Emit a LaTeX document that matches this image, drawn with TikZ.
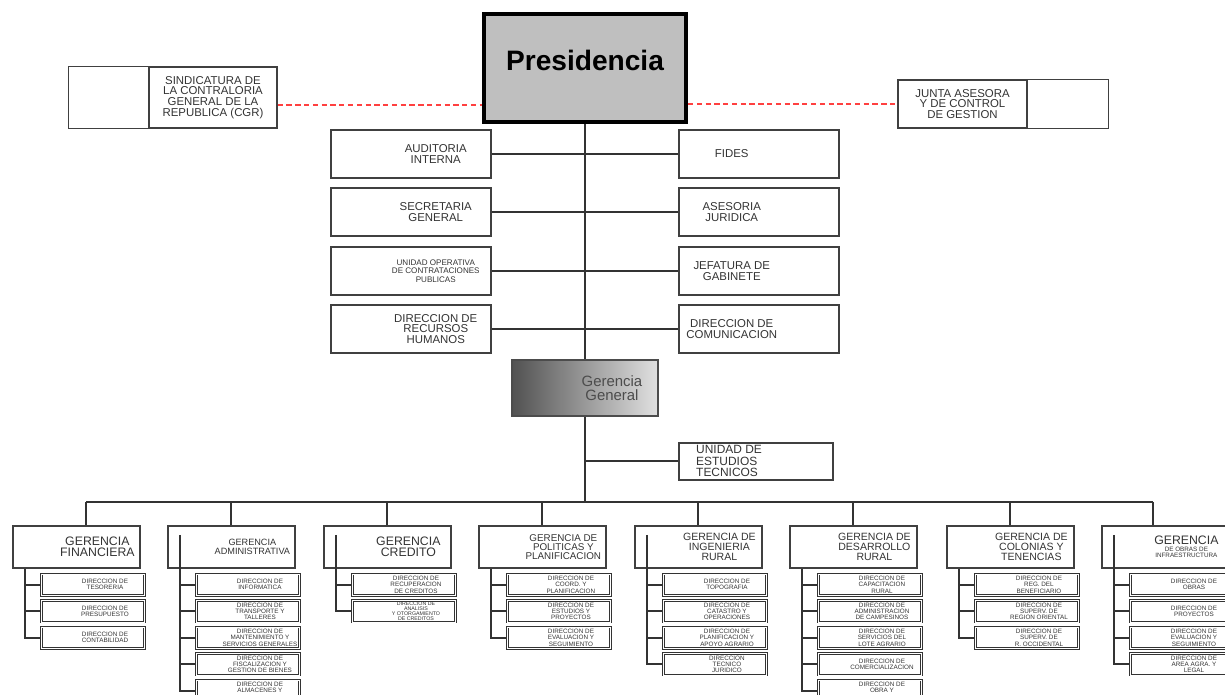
\documentclass[tikz,border=0pt]{standalone}
\usepackage{fontspec}
\setmainfont{Liberation Sans}

\begin{document}
\begin{tikzpicture}[x=0.02cm, y=-0.02cm,
	ubox/.style={draw=black!75, line width=0.9pt, anchor=north west, minimum width=3.2cm, minimum height=0.97cm, inner sep=0pt},
	utxt/.style={font=\fontsize{6.5}{6.1}\selectfont, text=black!80, align=center},
	ltxt/.style={utxt, xshift=0.5cm},
	rtxt/.style={utxt, xshift=-0.54cm},
	gbox/.style={draw=black!75, line width=1pt, anchor=north west, minimum width=2.54cm, minimum height=0.84cm, inner sep=0pt},
	gtxt/.style={utxt, font=\fontsize{7}{6.6}\selectfont, xshift=0.42cm},
	gtxts/.style={gtxt, font=\fontsize{6}{5.5}\selectfont},
	sbox/.style={draw=black!80, double=white, double distance=0.5pt, line width=0.55pt, anchor=north west, minimum width=2.06cm, minimum height=0.43cm, inner sep=0pt},
	stxt/.style={font=\fontsize{3.6}{3.5}\selectfont, text=black!80, align=center, xshift=0.24cm},
	link/.style={draw=black!80, line width=1.1pt},
	redlink/.style={draw=red!75, line width=0.8pt, densely dashed}]

		\useasboundingbox (0,0) rectangle (1225,695);
		\clip (0,0) rectangle (1225,695);

		% Presidencia and the two boards beside it
		\node[draw=black, line width=2.3pt, fill=black!25, minimum width=4.04cm, minimum height=2.16cm, text depth=0.32cm, font=\bfseries\fontsize{16}{18}\selectfont] (pres) at (585,68) {Presidencia};

		\node[draw=black!75, line width=0.8pt, minimum width=2.56cm, minimum height=1.22cm, inner sep=0pt, utxt] (sind) at (213,97.5) {SINDICATURA DE\\LA CONTRALORIA\\GENERAL DE LA\\REPUBLICA (CGR)};
		\draw[draw=black!75, line width=0.8pt] (sind.north west) rectangle ([xshift=-1.6cm]sind.south west);

		\node[draw=black!75, line width=0.8pt, minimum width=2.58cm, minimum height=0.96cm, inner sep=0pt, utxt] (junta) at (962.5,104) {JUNTA ASESORA\\Y DE CONTROL\\DE GESTION};
		\draw[draw=black!75, line width=0.8pt] (junta.north east) rectangle ([xshift=1.62cm]junta.south east);

		\coordinate (rl) at ([yshift=-0.15cm]sind.east);
		\draw[redlink] (rl) -- (rl -| pres.west);
		\draw[redlink] (junta.west -| pres.east) -- (junta.west);

		% staff units
		\node[ubox, label={[ltxt]center:{AUDITORIA\\INTERNA}}] (aud) at (330,129) {};
		\node[ubox, label={[rtxt]center:{FIDES}}] (fides) at (678,129) {};
		\node[ubox, label={[ltxt]center:{SECRETARIA\\GENERAL}}] (secr) at (330,187) {};
		\node[ubox, label={[rtxt]center:{ASESORIA\\JURIDICA}}] (ases) at (678,187) {};
		\node[ubox, label={[ltxt, font=\fontsize{4.6}{4.7}\selectfont]center:{UNIDAD OPERATIVA\\DE CONTRATACIONES\\PUBLICAS}}] (uoc) at (330,246) {};
		\node[ubox, label={[rtxt]center:{JEFATURA DE\\GABINETE}}] (jefa) at (678,246) {};
		\node[ubox, label={[ltxt]center:{DIRECCION DE\\RECURSOS\\HUMANOS}}] (rrhh) at (330,304) {};
		\node[ubox, label={[rtxt]center:{DIRECCION DE\\COMUNICACION}}] (comu) at (678,304) {};

		\draw[link] (aud) -- (fides);
		\draw[link] (secr) -- (ases);
		\draw[link] (uoc) -- (jefa);
		\draw[link] (rrhh) -- (comu);

		% Gerencia General
		\node[draw=black!70, line width=0.9pt, left color=black!68, right color=black!12, minimum width=2.92cm, minimum height=1.12cm, inner sep=0pt, label={[xshift=0.54cm, align=center, text=black!70, font=\fontsize{8.5}{7.6}\selectfont]center:{Gerencia\\General}}] (gg) at (585,388) {};
		\draw[link] (pres) -- (gg);

		\node[draw=black!75, line width=0.9pt, anchor=north west, minimum width=3.08cm, minimum height=0.74cm, inner sep=0pt, label={[utxt, font=\fontsize{6.8}{6.5}\selectfont, align=left, anchor=west, xshift=0.24cm]west:{UNIDAD DE\\ESTUDIOS\\TECNICOS}}] (uet) at (678,442) {};
		\draw[link] (uet.west) -- (uet.west -| gg.south);

		% bus to the gerencias
		\coordinate (busl) at (86,502);
		\coordinate (busr) at (1153,502);
		\draw[link] (gg) -- (gg.south |- busl);
		\draw[link] (busl) -- (busr);

		\node[gbox, label={[gtxt]center:{GERENCIA\\FINANCIERA}}] (gfin) at (12,525) {};
		\node[gbox, label={[gtxt, font=\fontsize{5.2}{4.6}\selectfont]center:{GERENCIA\\ADMINISTRATIVA}}] (gadm) at (167,525) {};
		\node[gbox, label={[gtxt]center:{GERENCIA\\CREDITO}}] (gcre) at (323,525) {};
		\node[gbox, label={[gtxts, font=\fontsize{5.6}{5.2}\selectfont]center:{GERENCIA DE\\POLITICAS Y\\PLANIFICACION}}] (gpol) at (478,525) {};
		\node[gbox, label={[gtxts]center:{GERENCIA DE\\INGENIERIA\\RURAL}}] (ging) at (634,525) {};
		\node[gbox, label={[gtxts]center:{GERENCIA DE\\DESARROLLO\\RURAL}}] (gdes) at (789,525) {};
		\node[gbox, label={[gtxts]center:{GERENCIA DE\\COLONIAS Y\\TENENCIAS}}] (gcol) at (946,525) {};
		\node[gbox, label={[gtxt, font=\fontsize{3.6}{3.8}\selectfont]center:{{\fontsize{7}{6.6}\selectfont GERENCIA}\\DE OBRAS DE\\INFRAESTRUCTURA}}] (gobr) at (1101,525) {};

		\draw[link] (busl) -- (busl |- gfin.north);
		\draw[link] (gadm.north) -- (gadm.north |- busl);
		\draw[link] (gcre.north) -- (gcre.north |- busl);
		\draw[link] (gpol.north) -- (gpol.north |- busl);
		\draw[link] (ging.north) -- (ging.north |- busl);
		\draw[link] (gdes.north) -- (gdes.north |- busl);
		\draw[link] (gcol.north) -- (gcol.north |- busl);
		\draw[link] (busr) -- (busr |- gobr.north);

		% direcciones under each gerencia
		\node[sbox, label={[stxt]center:{DIRECCION DE\\TESORERIA}}] (fin1) at (41,573.5) {};
		\node[sbox, label={[stxt]center:{DIRECCION DE\\PRESUPUESTO}}] (fin2) at (41,600) {};
		\node[sbox, label={[stxt]center:{DIRECCION DE\\CONTABILIDAD}}] (fin3) at (41,626.5) {};
		\draw[link] ([xshift=0.26cm]gfin.south west) |- (fin3.west);
		\draw[link] (fin1.west) -- ++(-0.32cm,0);
		\draw[link] (fin2.west) -- ++(-0.32cm,0);

		\node[sbox, label={[stxt]center:{DIRECCION DE\\INFORMATICA}}] (adm1) at (196,573.5) {};
		\node[sbox, label={[stxt]center:{DIRECCION DE\\TRANSPORTE Y\\TALLERES}}] (adm2) at (196,600) {};
		\node[sbox, label={[stxt]center:{DIRECCION DE\\MANTENIMIENTO Y\\SERVICIOS GENERALES}}] (adm3) at (196,626.5) {};
		\node[sbox, label={[stxt]center:{DIRECCION DE\\FISCALIZACION Y\\GESTION DE BIENES}}] (adm4) at (196,653) {};
		\node[sbox, label={[stxt]center:{DIRECCION DE\\ALMACENES Y\\\mbox{}}}] (adm5) at (196,679.5) {};
		\draw[link] ([shift={(0.26cm,-0.2cm)}]gadm.north west) |- (adm5.west);
		\draw[link] (adm1.west) -- ++(-0.32cm,0);
		\draw[link] (adm2.west) -- ++(-0.32cm,0);
		\draw[link] (adm3.west) -- ++(-0.32cm,0);
		\draw[link] (adm4.west) -- ++(-0.32cm,0);

		\node[sbox, label={[stxt]center:{DIRECCION DE\\RECUPERACION\\DE CREDITOS}}] (cre1) at (352,573.5) {};
		\node[sbox, label={[stxt, font=\fontsize{3}{2.9}\selectfont]center:{DIRECCION DE\\ANALISIS\\Y OTORGAMIENTO\\DE CREDITOS}}] (cre2) at (352,600) {};
		\draw[link] ([shift={(0.26cm,-0.2cm)}]gcre.north west) |- (cre2.west);
		\draw[link] (cre1.west) -- ++(-0.32cm,0);

		\node[sbox, label={[stxt]center:{DIRECCION DE\\COORD. Y\\PLANIFICACION}}] (pol1) at (507,573.5) {};
		\node[sbox, label={[stxt]center:{DIRECCION DE\\ESTUDIOS Y\\PROYECTOS}}] (pol2) at (507,600) {};
		\node[sbox, label={[stxt]center:{DIRECCION DE\\EVALUACION Y\\SEGUIMIENTO}}] (pol3) at (507,626.5) {};
		\draw[link] ([xshift=0.26cm]gpol.south west) |- (pol3.west);
		\draw[link] (pol1.west) -- ++(-0.32cm,0);
		\draw[link] (pol2.west) -- ++(-0.32cm,0);

		\node[sbox, label={[stxt]center:{DIRECCION DE\\TOPOGRAFIA}}] (ing1) at (663,573.5) {};
		\node[sbox, label={[stxt]center:{DIRECCION DE\\CATASTRO Y\\OPERACIONES}}] (ing2) at (663,600) {};
		\node[sbox, label={[stxt]center:{DIRECCION DE\\PLANIFICACION Y\\APOYO AGRARIO}}] (ing3) at (663,626.5) {};
		\node[sbox, label={[stxt]center:{DIRECCION\\TECNICO\\JURIDICO}}] (ing4) at (663,653) {};
		\draw[link] ([shift={(0.26cm,-0.2cm)}]ging.north west) |- (ing4.west);
		\draw[link] (ing1.west) -- ++(-0.32cm,0);
		\draw[link] (ing2.west) -- ++(-0.32cm,0);
		\draw[link] (ing3.west) -- ++(-0.32cm,0);

		\node[sbox, label={[stxt]center:{DIRECCION DE\\CAPACITACION\\RURAL}}] (des1) at (818,573.5) {};
		\node[sbox, label={[stxt]center:{DIRECCION DE\\ADMINISTRACION\\DE CAMPESINOS}}] (des2) at (818,600) {};
		\node[sbox, label={[stxt]center:{DIRECCION DE\\SERVICIOS DEL\\LOTE AGRARIO}}] (des3) at (818,626.5) {};
		\node[sbox, label={[stxt]center:{DIRECCION DE\\COMERCIALIZACION}}] (des4) at (818,653) {};
		\node[sbox, label={[stxt]center:{DIRECCION DE\\OBRA Y\\\mbox{}}}] (des5) at (818,679.5) {};
		\draw[link] ([xshift=0.26cm]gdes.south west) |- (des5.west);
		\draw[link] (des1.west) -- ++(-0.32cm,0);
		\draw[link] (des2.west) -- ++(-0.32cm,0);
		\draw[link] (des3.west) -- ++(-0.32cm,0);
		\draw[link] (des4.west) -- ++(-0.32cm,0);

		\node[sbox, label={[stxt]center:{DIRECCION DE\\REG. DEL\\BENEFICIARIO}}] (col1) at (975,573.5) {};
		\node[sbox, label={[stxt]center:{DIRECCION DE\\SUPERV. DE\\REGION ORIENTAL}}] (col2) at (975,600) {};
		\node[sbox, label={[stxt]center:{DIRECCION DE\\SUPERV. DE\\R. OCCIDENTAL}}] (col3) at (975,626.5) {};
		\draw[link] ([xshift=0.26cm]gcol.south west) |- (col3.west);
		\draw[link] (col1.west) -- ++(-0.32cm,0);
		\draw[link] (col2.west) -- ++(-0.32cm,0);

		\node[sbox, label={[stxt]center:{DIRECCION DE\\OBRAS}}] (obr1) at (1130,573.5) {};
		\node[sbox, label={[stxt]center:{DIRECCION DE\\PROYECTOS}}] (obr2) at (1130,600) {};
		\node[sbox, label={[stxt]center:{DIRECCION DE\\EVALUACION Y\\SEGUIMIENTO}}] (obr3) at (1130,626.5) {};
		\node[sbox, label={[stxt]center:{DIRECCION DE\\AREA AGRA. Y\\LEGAL}}] (obr4) at (1130,653) {};
		\draw[link] ([shift={(0.26cm,-0.2cm)}]gobr.north west) |- (obr4.west);
		\draw[link] (obr1.west) -- ++(-0.32cm,0);
		\draw[link] (obr2.west) -- ++(-0.32cm,0);
		\draw[link] (obr3.west) -- ++(-0.32cm,0);

	\end{tikzpicture}
\end{document}
